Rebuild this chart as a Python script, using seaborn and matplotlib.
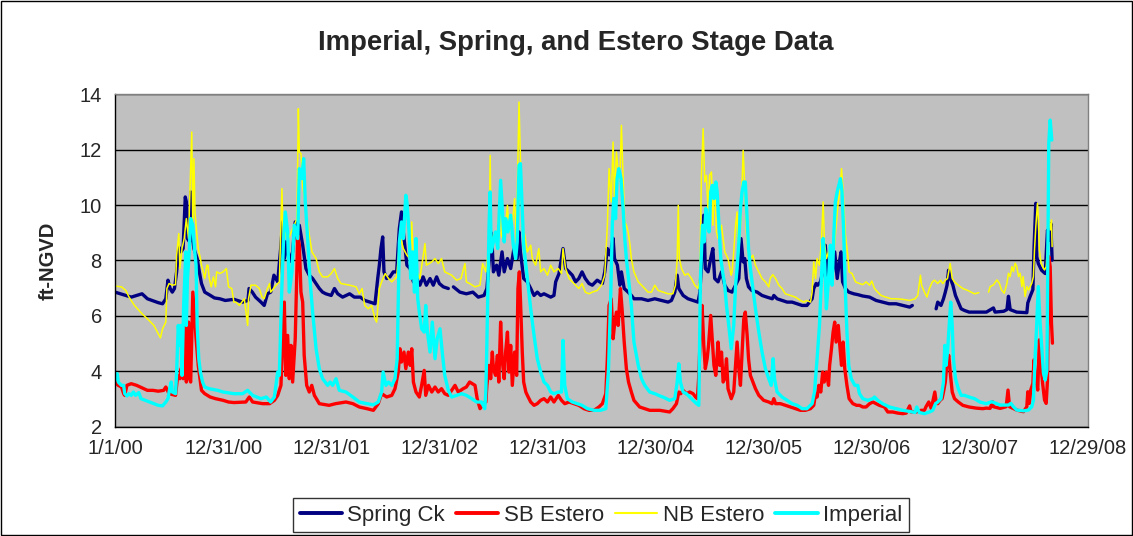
import pandas as pd
import numpy as np
import matplotlib
matplotlib.use('Agg')
import matplotlib.pyplot as plt
from matplotlib.lines import Line2D
from matplotlib.patches import Rectangle
import seaborn as sns

# (years since 1/1/00, stage ft-NGVD); None = no record (gap)
spring_ck = [
    (0.00, 6.86), (0.10, 6.74), (0.15, 6.68), (0.25, 6.80), (0.30, 6.62), (0.40, 6.48), (0.44, 6.44),
    (0.47, 6.62), (0.49, 7.29), (0.51, 6.99), (0.53, 6.86), (0.55, 6.99), (0.57, 7.59), (0.59, 8.49),
    (0.61, 8.31), (0.63, 8.43), (0.65, 10.29), (0.66, 10.11), (0.67, 8.79), (0.69, 8.67), (0.70, 10.47),
    (0.71, 9.03), (0.73, 8.43), (0.76, 8.07), (0.78, 7.59), (0.80, 7.17), (0.83, 6.86), (0.87, 6.77),
    (0.92, 6.65), (0.97, 6.62), (1.02, 6.56), (1.10, 6.60),
    (1.18, 6.50), (1.23, 6.56), (1.24, 6.99), (1.27, 6.86), (1.30, 6.68), (1.35, 6.50), (1.38, 6.38),
    (1.41, 6.80), (1.44, 6.86), (1.47, 7.47), (1.505, 7.23), (1.535, 8.55), (1.55, 9.39), (1.566, 8.07),
    (1.58, 8.67), (1.612, 7.95), (1.643, 8.31), (1.667, 9.39), (1.69, 8.79), (1.705, 9.27), (1.736, 8.55),
    (1.766, 7.71), (1.797, 7.47), (1.828, 7.35), (1.859, 7.17), (1.89, 6.99), (1.92, 6.86), (1.95, 6.80),
    (2.00, 6.74), (2.03, 6.99), (2.06, 6.80), (2.105, 6.68), (2.17, 6.80), (2.214, 6.68),
    (2.27, 6.68), (2.31, 6.56), (2.36, 6.50), (2.405, 6.44), (2.43, 7.35), (2.445, 7.83), (2.46, 8.43),
    (2.476, 8.85), (2.488, 7.59), (2.513, 7.35), (2.543, 7.41), (2.574, 7.59), (2.605, 7.59), (2.63, 9.15),
    (2.65, 9.75), (2.667, 9.03), (2.70, 7.83), (2.73, 7.71), (2.76, 7.23), (2.79, 7.35), (2.82, 7.11),
    (2.85, 7.41), (2.88, 7.11), (2.914, 7.35), (2.944, 7.11), (2.975, 7.41), (3.00, 7.17), (3.037, 7.05),
    (3.083, 6.99), (3.10, None),
    (3.13, 7.05), (3.19, 6.86), (3.25, 6.80), (3.31, 6.86), (3.36, 6.68),
    (3.413, 6.74), (3.44, 6.99), (3.46, 7.95), (3.475, 9.03), (3.49, 8.43), (3.50, 7.59), (3.53, 7.83),
    (3.55, 7.47), (3.58, 8.31), (3.60, 7.59), (3.63, 8.07), (3.66, 7.71), (3.69, 8.43), (3.72, 8.07),
    (3.737, 9.03), (3.75, 8.31), (3.78, 7.35), (3.814, 7.23), (3.845, 6.99), (3.876, 6.74), (3.906, 6.86),
    (3.937, 6.74), (3.968, 6.80), (4.00, 6.74), (4.03, 6.68), (4.06, 6.74), (4.076, 7.23), (4.107, 7.53),
    (4.144, 8.43), (4.168, 7.71), (4.20, 7.59), (4.23, 7.47), (4.26, 7.23), (4.29, 7.35), (4.32, 7.59),
    (4.35, 7.35), (4.384, 7.17), (4.415, 7.11), (4.46, 7.29), (4.508, 7.17), (4.53, 7.59), (4.554, 8.43),
    (4.576, 8.20), (4.59, 8.43), (4.607, 8.80), (4.62, 8.07), (4.647, 7.83), (4.67, 7.11), (4.684, 7.59),
    (4.71, 6.99), (4.746, 6.86), (4.776, 6.74), (4.80, 6.62), (4.87, 6.62), (4.93, 6.56), (4.993, 6.62),
    (5.054, 6.56), (5.116, 6.50), (5.147, 6.56), (5.178, 6.86), (5.20, 7.47), (5.215, 6.99), (5.255, 6.74),
    (5.30, 6.62), (5.347, 6.56), (5.393, 6.50), (5.41, 6.86), (5.424, 7.83), (5.446, 9.63), (5.46, 7.71),
    (5.486, 7.59), (5.51, 8.07), (5.53, 8.43), (5.547, 7.35), (5.578, 7.23), (5.61, 7.59), (5.64, 7.11),
    (5.67, 6.92),
    (5.708, 6.86), (5.74, 7.11), (5.77, 7.35), (5.79, 8.79), (5.81, 7.95), (5.825, 8.07), (5.84, 7.35),
    (5.86, 7.05), (5.89, 6.92), (5.94, 6.86), (5.985, 6.74), (6.03, 6.68), (6.08, 6.62), (6.094, 6.74),
    (6.124, 6.62), (6.17, 6.56), (6.217, 6.50), (6.263, 6.50), (6.31, 6.44), (6.355, 6.38), (6.40, 6.38),
    (6.448, 6.62), (6.463, 6.99), (6.485, 7.17), (6.50, 7.11), (6.525, 7.23), (6.546, 7.59), (6.57, 8.55),
    (6.587, 7.47), (6.61, 7.83), (6.633, 7.47), (6.657, 8.31), (6.68, 7.35), (6.70, 7.95), (6.716, 8.31),
    (6.73, 7.23), (6.756, 6.99), (6.787, 6.86), (6.833, 6.80),
    (6.87, 6.77), (6.917, 6.72), (6.98, 6.68), (7.04, 6.56), (7.10, 6.50), (7.16, 6.44), (7.225, 6.44),
    (7.287, 6.38), (7.35, 6.32), (7.375, 6.38), (7.45, None),
    (7.595, 6.26), (7.61, 6.50), (7.64, 6.38), (7.663, 6.62), (7.68, 6.86), (7.696, 7.11), (7.71, 7.65),
    (7.728, 7.35), (7.75, 7.11), (7.774, 6.74), (7.80, 6.50), (7.826, 6.26), (7.857, 6.20), (7.90, 6.14),
    (7.965, 6.14), (8.06, 6.14),
    (8.125, 6.29), (8.14, 6.14), (8.22, 6.17), (8.25, 6.23), (8.264, 6.71), (8.28, 6.23), (8.34, 6.14),
    (8.434, 6.12), (8.443, 6.47), (8.465, 6.71), (8.49, 6.95), (8.50, 8.38), (8.517, 10.06), (8.526, 8.13),
    (8.54, 7.89), (8.57, 7.65), (8.604, 7.53), (8.625, 9.09), (8.644, 8.73), (8.656, 9.33), (8.668, 8.01),
]

sb_estero = [
    (0.00, 3.62), (0.03, 3.50), (0.06, 3.44), (0.08, 3.20), (0.09, 3.14), (0.11, 3.50), (0.15, 3.56),
    (0.20, 3.50), (0.25, 3.41), (0.30, 3.32), (0.35, 3.32), (0.40, 3.29), (0.45, 3.32), (0.47, 3.44),
    (0.50, 3.20), (0.56, 3.14), (0.58, 3.86), (0.60, 3.74), (0.61, 4.10), (0.63, 3.74), (0.65, 5.66),
    (0.66, 3.62), (0.67, 4.22), (0.68, 5.78), (0.69, 3.74), (0.70, 3.62), (0.72, 6.86), (0.735, 6.02),
    (0.75, 5.18), (0.77, 4.22), (0.79, 3.62), (0.80, 3.32), (0.83, 3.20), (0.88, 3.08), (0.93, 3.02),
    (1.00, 2.96), (1.05, 2.90), (1.10, 2.88),
    (1.21, 2.90), (1.242, 3.08), (1.273, 2.90), (1.366, 2.84), (1.43, 2.84), (1.474, 2.96), (1.505, 3.14),
    (1.535, 3.50), (1.566, 6.50), (1.58, 3.86), (1.597, 5.30), (1.612, 3.74), (1.628, 4.94), (1.643, 3.62),
    (1.667, 5.18), (1.69, 8.91), (1.705, 8.55), (1.72, 6.86), (1.736, 6.50), (1.75, 4.58), (1.773, 3.50),
    (1.797, 3.26), (1.82, 3.50), (1.844, 3.14), (1.89, 2.84), (1.98, 2.78), (2.04, 2.84), (2.136, 2.90),
    (2.20, 2.84), (2.26, 2.72),
    (2.33, 2.66), (2.39, 2.60), (2.435, 2.84), (2.466, 3.20), (2.513, 3.08), (2.56, 3.14), (2.59, 3.38),
    (2.62, 3.98), (2.636, 4.82), (2.65, 4.34), (2.673, 4.70), (2.69, 4.10), (2.713, 4.70), (2.73, 4.22),
    (2.745, 4.82), (2.76, 3.62), (2.784, 3.26), (2.815, 3.08), (2.836, 3.50), (2.86, 4.04), (2.874, 3.14),
    (2.90, 3.50), (2.93, 3.26), (2.96, 3.44), (2.99, 3.26), (3.02, 3.38), (3.05, 3.20), (3.083, 3.14),
    (3.114, 3.32), (3.145, 3.50), (3.175, 3.26), (3.22, 3.38), (3.25, 3.44), (3.28, 3.62), (3.33, 3.50),
    (3.35, 3.02), (3.376, 2.66), (3.41, 2.84),
    (3.43, 2.90), (3.44, 3.50), (3.46, 4.22), (3.475, 3.74), (3.49, 4.70), (3.50, 4.10), (3.52, 3.86),
    (3.537, 4.58), (3.55, 3.62), (3.567, 5.78), (3.58, 4.46), (3.60, 3.74), (3.613, 4.70), (3.63, 5.42),
    (3.644, 3.98), (3.66, 4.94), (3.675, 3.50), (3.696, 4.70), (3.715, 3.86), (3.727, 6.99), (3.74, 7.59),
    (3.75, 6.62), (3.767, 4.70), (3.78, 3.62), (3.80, 3.26), (3.814, 3.14), (3.845, 2.90), (3.876, 2.78),
    (3.906, 2.84), (3.937, 2.96), (3.968, 3.02), (4.00, 2.90), (4.03, 3.08), (4.06, 2.90), (4.10, 3.14),
    (4.13, 2.96), (4.16, 2.84), (4.20, 2.90), (4.245, 2.84), (4.29, 2.78), (4.338, 2.66), (4.384, 2.60),
    (4.43, 2.60), (4.476, 2.72), (4.508, 2.84), (4.54, 3.20), (4.554, 4.46), (4.57, 6.38),
    (4.59, 6.62), (4.607, 5.18), (4.62, 5.66), (4.638, 6.14), (4.654, 5.66), (4.675, 6.99), (4.69, 6.26),
    (4.71, 5.06), (4.73, 4.10), (4.75, 3.62), (4.776, 3.26), (4.80, 2.96), (4.853, 2.72), (4.90, 2.66),
    (4.946, 2.60), (5.04, 2.60), (5.10, 2.56), (5.13, 2.54), (5.16, 2.66), (5.193, 2.84), (5.215, 3.26),
    (5.233, 3.20), (5.255, 3.32), (5.285, 3.20), (5.316, 3.26), (5.347, 3.20), (5.37, 3.08), (5.387, 3.02),
    (5.40, 3.86), (5.415, 5.42), (5.43, 6.38), (5.446, 4.94), (5.46, 4.10), (5.477, 4.46), (5.49, 4.94),
    (5.51, 6.02), (5.526, 5.06), (5.54, 4.22), (5.557, 3.86), (5.578, 5.06), (5.594, 4.22), (5.61, 4.70),
    (5.625, 3.62), (5.64, 3.74), (5.656, 4.46), (5.67, 3.38), (5.70, 3.02),
    (5.723, 3.26), (5.74, 4.22), (5.754, 5.06), (5.77, 4.10), (5.785, 3.50), (5.80, 4.70), (5.816, 5.90),
    (5.83, 6.14), (5.847, 5.30), (5.86, 4.46), (5.877, 3.86), (5.90, 3.62), (5.924, 3.38), (5.955, 3.14),
    (6.00, 2.96), (6.047, 2.90), (6.078, 2.84), (6.094, 3.02), (6.11, 2.84), (6.155, 2.84), (6.20, 2.78),
    (6.248, 2.72), (6.294, 2.66), (6.34, 2.60), (6.386, 2.60), (6.433, 2.66), (6.463, 2.78), (6.48, 3.20),
    (6.494, 3.08), (6.51, 3.50), (6.528, 3.26), (6.546, 3.98), (6.56, 3.62), (6.58, 3.98), (6.60, 3.50),
    (6.61, 4.22), (6.627, 4.82), (6.642, 5.42), (6.657, 5.78), (6.67, 5.06), (6.69, 5.66), (6.704, 4.94),
    (6.72, 4.22), (6.735, 5.06), (6.75, 4.10), (6.77, 3.50), (6.79, 3.02), (6.825, 2.84), (6.86, 2.78),
    (6.886, 2.78), (6.917, 2.72), (6.947, 2.72), (6.98, 2.84), (7.01, 2.90), (7.04, 2.84), (7.07, 2.78),
    (7.117, 2.72), (7.148, 2.54), (7.194, 2.54), (7.24, 2.50), (7.287, 2.48), (7.318, 2.50), (7.35, 2.76),
    (7.363, 2.54), (7.41, 2.54), (7.456, 2.60), (7.487, 2.60), (7.50, 2.72), (7.527, 2.90), (7.55, 2.66),
    (7.57, 3.02), (7.583, 3.26), (7.595, 2.90), (7.61, 2.84), (7.632, 2.96), (7.65, 3.02), (7.663, 3.26),
    (7.68, 3.62), (7.696, 4.34), (7.712, 4.58), (7.728, 3.86), (7.744, 3.26), (7.765, 3.02), (7.80, 2.90),
    (7.842, 2.78), (7.90, 2.72), (7.965, 2.68), (8.027, 2.66), (8.058, 2.68),
    (8.094, 2.67), (8.116, 2.91), (8.125, 2.73), (8.187, 2.67), (8.243, 2.73), (8.26, 3.33), (8.274, 2.73),
    (8.34, 2.61), (8.403, 2.55), (8.434, 2.73), (8.443, 3.27), (8.458, 2.85), (8.47, 3.33), (8.49, 3.57),
    (8.50, 4.42), (8.517, 3.69), (8.535, 3.33), (8.55, 5.14), (8.566, 4.18), (8.58, 3.57), (8.598, 2.97),
    (8.613, 2.85), (8.625, 3.69), (8.637, 8.14), (8.65, 7.78), (8.662, 5.74), (8.671, 5.02),
]

nb_estero = [
    (0.00, 7.08), (0.06, 7.05), (0.10, 6.92), (0.13, 6.68), (0.18, 6.38), (0.25, 6.08), (0.30, 5.90),
    (0.36, 5.66), (0.42, 5.21), (0.44, 5.54), (0.47, 5.78), (0.48, 6.99), (0.50, 7.17), (0.53, 7.11),
    (0.56, 7.13), (0.57, 8.19), (0.59, 8.97), (0.60, 7.71), (0.62, 8.43), (0.64, 8.79), (0.66, 9.51),
    (0.68, 8.79), (0.71, 12.63), (0.72, 9.03), (0.73, 11.67), (0.74, 9.75), (0.755, 9.03), (0.77, 8.43),
    (0.79, 8.07), (0.80, 7.83), (0.82, 7.53), (0.83, 7.35), (0.85, 7.83), (0.86, 7.83), (0.87, 7.41),
    (0.89, 7.05), (0.91, 7.41), (0.93, 7.05), (0.94, 7.59), (0.97, 7.53), (1.00, 7.59), (1.03, 7.71),
    (1.05, 7.05), (1.08, 6.99), (1.10, 6.50),
    (1.119, 6.50), (1.15, 6.38), (1.196, 6.62), (1.227, 5.66), (1.235, 6.62), (1.258, 7.11), (1.30, 7.11),
    (1.335, 6.99), (1.36, 6.68), (1.38, 6.62), (1.41, 6.99), (1.43, 7.17), (1.44, 6.86), (1.49, 7.11),
    (1.52, 7.23), (1.544, 10.59), (1.557, 8.55), (1.58, 9.03), (1.606, 8.79), (1.63, 9.03), (1.658, 9.27),
    (1.683, 9.51), (1.696, 13.47), (1.705, 11.91), (1.72, 11.85), (1.736, 10.71), (1.757, 10.11),
    (1.776, 9.51), (1.797, 8.91), (1.822, 8.31), (1.86, 8.07), (1.89, 7.59), (1.92, 7.41), (1.967, 7.41),
    (2.00, 7.53), (2.03, 7.71), (2.06, 7.35), (2.09, 7.17), (2.17, 7.11), (2.23, 7.05), (2.26, 6.80),
    (2.285, 6.99), (2.31, 6.38), (2.343, 6.26), (2.374, 6.38), (2.405, 5.90), (2.42, 5.78), (2.445, 6.99),
    (2.466, 7.23), (2.50, 7.53), (2.53, 7.35), (2.56, 7.23), (2.605, 7.41), (2.636, 8.91), (2.667, 8.43),
    (2.70, 8.19), (2.73, 8.07), (2.745, 9.39), (2.76, 7.83), (2.79, 7.65), (2.82, 7.35), (2.867, 8.61),
    (2.88, 7.83), (2.93, 7.95), (2.96, 8.07), (2.99, 7.89), (3.02, 8.07), (3.05, 7.59), (3.083, 7.53),
    (3.114, 7.47), (3.16, 7.29), (3.20, 7.35), (3.237, 7.89), (3.25, 7.23), (3.28, 7.17), (3.33, 7.05),
    (3.376, 7.11), (3.40, 7.89),
    (3.43, 7.59), (3.46, 8.55), (3.47, 11.79), (3.48, 8.43), (3.50, 8.91), (3.537, 9.03), (3.56, 10.23),
    (3.573, 8.91), (3.60, 8.67), (3.63, 9.99), (3.644, 9.03), (3.675, 9.27), (3.696, 10.23), (3.712, 8.67),
    (3.737, 13.71), (3.75, 11.67), (3.767, 9.27), (3.79, 8.91), (3.814, 8.31), (3.845, 8.55), (3.86, 8.07),
    (3.89, 7.83), (3.92, 8.43), (3.937, 7.59), (3.968, 7.71), (4.00, 7.47), (4.03, 7.83), (4.06, 7.59),
    (4.10, 7.71), (4.13, 7.53), (4.144, 8.43), (4.168, 7.71), (4.20, 7.35), (4.23, 7.23), (4.26, 7.11),
    (4.29, 6.99), (4.32, 7.17), (4.35, 6.86), (4.384, 6.80), (4.415, 6.86), (4.46, 6.92), (4.50, 7.11),
    (4.53, 7.47), (4.554, 9.27), (4.57, 11.31), (4.59, 10.11), (4.607, 12.27), (4.62, 10.23),
    (4.638, 11.91), (4.654, 11.19), (4.67, 10.95), (4.684, 12.87), (4.70, 10.95), (4.715, 9.39),
    (4.73, 9.27), (4.746, 9.03), (4.76, 8.67), (4.776, 8.07), (4.80, 7.59), (4.84, 7.23), (4.87, 7.11),
    (4.90, 6.99), (4.93, 6.86), (4.962, 6.86), (4.993, 7.11), (5.024, 6.92), (5.07, 6.86), (5.116, 6.80),
    (5.16, 6.80), (5.184, 7.11), (5.20, 8.07), (5.21, 9.99), (5.22, 8.07), (5.24, 7.71), (5.27, 7.47),
    (5.30, 7.53), (5.332, 7.35), (5.363, 7.11), (5.393, 6.99), (5.41, 7.35), (5.424, 11.07), (5.44, 12.75),
    (5.455, 10.83), (5.47, 11.07), (5.486, 9.75), (5.50, 11.07), (5.517, 11.19), (5.53, 9.27),
    (5.547, 10.83), (5.563, 9.03), (5.578, 8.79), (5.61, 9.27), (5.625, 8.79), (5.64, 8.31), (5.67, 8.07),
    (5.70, 7.47),
    (5.708, 7.59), (5.723, 8.31), (5.74, 9.27), (5.754, 9.75), (5.764, 8.07), (5.776, 8.67), (5.79, 9.51),
    (5.81, 11.97), (5.825, 10.71), (5.84, 9.03), (5.856, 8.31), (5.877, 8.07), (5.90, 8.19), (5.924, 7.83),
    (5.955, 7.59), (5.985, 7.35), (6.016, 7.23), (6.047, 7.05), (6.06, 7.35), (6.084, 7.49), (6.11, 7.35),
    (6.14, 7.11), (6.17, 6.99), (6.20, 6.80), (6.248, 6.74), (6.294, 6.68), (6.34, 6.56), (6.37, 6.50),
    (6.40, 6.56), (6.433, 6.50), (6.448, 6.86), (6.463, 7.95), (6.48, 7.35), (6.494, 8.07), (6.516, 7.83),
    (6.534, 8.67), (6.55, 10.11), (6.562, 8.67), (6.58, 8.07), (6.60, 8.31), (6.61, 7.71), (6.633, 8.19),
    (6.65, 8.31), (6.67, 9.27), (6.69, 10.11), (6.704, 10.47), (6.72, 11.31), (6.735, 10.47), (6.756, 8.91),
    (6.778, 8.19), (6.79, 7.59), (6.818, 7.53), (6.85, 7.23),
    (6.886, 7.17), (6.917, 7.13), (6.947, 7.23), (6.98, 7.11), (7.00, 7.26), (7.025, 6.99), (7.055, 6.86),
    (7.086, 6.74), (7.13, 6.68), (7.18, 6.62), (7.225, 6.62), (7.287, 6.60), (7.35, 6.56), (7.40, 6.62),
    (7.425, 6.74), (7.45, 7.47), (7.46, 7.11), (7.487, 6.86), (7.51, 6.68), (7.533, 6.99), (7.56, 7.23),
    (7.58, 7.29), (7.61, 7.17), (7.635, 7.29), (7.657, 7.17), (7.68, 7.29), (7.70, 7.35), (7.725, 7.89),
    (7.744, 7.35), (7.765, 7.23), (7.80, 7.11), (7.842, 6.99), (7.888, 6.92), (7.92, 6.86), (7.95, 6.80),
    (7.99, 6.84), (8.03, None),
    (8.08, 6.86), (8.095, 7.06), (8.125, 7.12), (8.157, 7.30), (8.18, 7.18), (8.20, 6.94), (8.225, 6.82),
    (8.25, 7.18), (8.264, 7.54), (8.28, 7.42), (8.296, 7.78), (8.31, 7.60), (8.326, 7.90), (8.34, 7.80),
    (8.357, 7.42), (8.372, 7.54), (8.388, 7.06), (8.40, 7.42), (8.418, 6.70), (8.434, 7.06), (8.45, 6.94),
    (8.465, 7.06), (8.48, 7.18), (8.495, 7.42), (8.505, 8.38), (8.517, 9.22), (8.532, 10.06), (8.54, 9.58),
    (8.55, 8.38), (8.566, 7.90), (8.58, 7.78), (8.598, 7.66), (8.613, 7.78), (8.625, 8.50), (8.637, 9.58),
    (8.65, 9.10), (8.662, 9.46), (8.668, 8.50),
]

imperial = [
    (0.00, 3.92), (0.01, 3.74), (0.02, 3.92), (0.03, 3.62), (0.06, 3.50), (0.08, 3.50), (0.09, 3.20),
    (0.11, 3.12), (0.13, 3.20), (0.15, 3.14), (0.17, 3.26), (0.19, 3.14), (0.22, 3.24), (0.24, 3.02),
    (0.28, 2.96), (0.32, 2.90), (0.36, 2.84), (0.40, 2.78), (0.44, 2.76), (0.47, 2.90), (0.49, 3.02),
    (0.50, 3.26), (0.52, 3.62), (0.53, 3.26), (0.56, 3.20), (0.57, 3.98), (0.585, 5.66), (0.60, 4.94),
    (0.61, 5.66), (0.62, 3.86), (0.635, 6.38), (0.645, 7.35), (0.655, 8.31), (0.66, 5.66), (0.67, 7.35),
    (0.685, 8.19), (0.70, 9.51), (0.71, 9.39), (0.72, 9.27), (0.735, 8.43), (0.75, 7.83), (0.76, 5.66),
    (0.775, 4.46), (0.79, 3.98), (0.81, 3.62), (0.83, 3.44), (0.87, 3.38), (0.95, 3.32), (1.00, 3.26),
    (1.10, 3.20),
    (1.18, 3.20), (1.227, 3.32), (1.273, 3.14), (1.35, 3.02), (1.40, 3.08), (1.44, 2.90), (1.474, 3.08),
    (1.505, 3.98), (1.52, 3.86), (1.54, 6.62), (1.557, 8.55), (1.575, 9.75), (1.597, 9.03), (1.612, 6.86),
    (1.637, 7.59), (1.658, 9.27), (1.674, 9.03), (1.69, 8.79), (1.705, 11.31), (1.726, 10.95),
    (1.745, 11.67), (1.76, 10.11), (1.782, 8.79), (1.803, 7.35), (1.828, 6.14), (1.86, 4.82), (1.89, 4.10),
    (1.92, 3.74), (1.967, 3.50), (1.99, 3.62), (2.013, 3.50), (2.044, 3.74), (2.075, 3.32), (2.136, 3.26),
    (2.20, 3.08), (2.26, 2.90),
    (2.33, 2.84), (2.39, 2.80), (2.435, 2.90), (2.466, 3.26), (2.48, 3.98), (2.506, 3.50), (2.53, 3.62),
    (2.56, 3.50), (2.59, 3.74), (2.61, 4.46), (2.63, 8.67), (2.65, 9.39), (2.667, 8.79), (2.69, 10.35),
    (2.70, 10.11), (2.72, 9.03), (2.735, 7.35), (2.753, 8.31), (2.77, 6.86), (2.784, 8.79), (2.80, 6.62),
    (2.815, 6.14), (2.836, 5.54), (2.86, 5.42), (2.874, 6.38), (2.89, 5.42), (2.914, 4.70), (2.935, 5.78),
    (2.96, 4.46), (2.98, 5.18), (3.006, 5.54), (3.03, 4.58), (3.05, 3.86), (3.083, 3.32), (3.114, 3.08),
    (3.16, 3.14), (3.207, 3.20), (3.25, 3.14), (3.30, 3.02), (3.345, 2.90), (3.39, 2.90),
    (3.42, 2.66), (3.43, 3.26), (3.44, 5.06), (3.46, 9.27), (3.47, 10.47), (3.48, 8.31), (3.50, 8.67),
    (3.52, 9.03), (3.54, 8.43), (3.567, 10.89), (3.58, 9.99), (3.60, 8.67), (3.613, 9.51), (3.635, 9.03),
    (3.66, 9.63), (3.684, 8.55), (3.706, 8.07), (3.72, 8.67), (3.737, 11.43), (3.75, 11.49), (3.767, 9.87),
    (3.78, 8.55), (3.814, 7.35), (3.845, 6.26), (3.876, 5.30), (3.906, 4.46), (3.937, 3.98), (3.968, 3.62),
    (4.00, 3.50), (4.03, 3.26), (4.06, 3.20), (4.10, 3.26), (4.13, 3.26), (4.144, 5.12), (4.16, 3.50),
    (4.184, 3.02), (4.23, 2.90), (4.276, 2.84), (4.32, 2.78), (4.37, 2.66), (4.43, 2.60), (4.49, 2.60),
    (4.54, 2.66),
    (4.565, 4.10), (4.586, 6.86), (4.60, 9.27), (4.613, 10.23), (4.63, 9.51), (4.644, 10.95), (4.66, 11.31),
    (4.68, 10.95), (4.70, 9.87), (4.715, 8.79), (4.73, 8.07), (4.75, 7.35), (4.776, 6.38), (4.80, 5.06),
    (4.84, 4.22), (4.87, 3.74), (4.90, 3.50), (4.946, 3.26), (4.993, 3.20), (5.04, 3.12), (5.085, 3.05),
    (5.13, 2.96), (5.178, 3.02), (5.20, 3.62), (5.215, 4.28), (5.23, 3.62), (5.255, 3.26), (5.285, 3.20),
    (5.316, 3.08), (5.347, 2.96), (5.38, 2.84), (5.40, 2.78), (5.415, 7.35), (5.434, 9.27), (5.45, 8.67),
    (5.465, 9.87), (5.48, 9.27), (5.495, 9.03), (5.51, 10.47), (5.526, 10.71), (5.54, 10.23),
    (5.557, 10.83), (5.57, 10.47), (5.587, 9.27), (5.603, 8.07), (5.625, 7.47), (5.64, 7.11),
    (5.656, 6.38), (5.677, 5.66), (5.70, 4.82),
    (5.723, 5.66), (5.74, 7.11), (5.754, 7.71), (5.77, 8.67), (5.785, 9.87), (5.80, 10.47), (5.816, 10.83),
    (5.83, 10.83), (5.847, 9.51), (5.86, 8.43), (5.877, 7.71), (5.90, 6.99), (5.924, 6.26), (5.955, 5.42),
    (5.985, 4.70), (6.016, 4.10), (6.047, 3.74), (6.07, 3.50), (6.087, 4.46), (6.10, 3.74), (6.124, 3.26),
    (6.17, 3.08), (6.217, 2.96), (6.263, 2.84), (6.31, 2.78), (6.355, 2.66), (6.40, 2.66), (6.448, 2.84),
    (6.47, 3.26), (6.494, 4.46), (6.516, 5.66), (6.534, 7.35), (6.55, 8.79), (6.565, 7.83), (6.58, 6.26),
    (6.60, 7.35), (6.617, 8.55), (6.633, 7.11), (6.65, 9.03), (6.663, 10.11), (6.68, 10.47),
    (6.695, 10.71), (6.71, 10.95), (6.725, 10.47), (6.74, 9.03), (6.756, 6.86), (6.77, 5.42),
    (6.787, 4.22), (6.81, 3.74), (6.843, 3.50),
    (6.87, 3.50), (6.886, 3.20), (6.917, 3.02), (6.963, 2.96), (7.01, 3.02), (7.025, 3.08), (7.055, 2.96),
    (7.10, 2.84), (7.163, 2.72), (7.225, 2.66), (7.287, 2.60), (7.35, 2.56), (7.40, 2.52), (7.416, 2.72),
    (7.44, 2.52), (7.487, 2.48), (7.533, 2.54), (7.564, 2.60), (7.59, 2.84), (7.61, 2.90), (7.64, 3.02),
    (7.663, 3.62), (7.675, 4.94), (7.687, 4.22), (7.70, 4.70), (7.72, 5.90), (7.73, 6.50), (7.744, 5.66),
    (7.755, 4.46), (7.774, 3.74), (7.80, 3.38), (7.826, 3.14), (7.857, 3.14), (7.90, 3.08), (7.95, 3.02),
    (8.00, 2.90), (8.058, 2.84),
    (8.11, 2.91), (8.187, 2.79), (8.264, 2.79), (8.286, 2.85), (8.31, 2.73), (8.34, 2.61), (8.403, 2.58),
    (8.45, 2.61), (8.48, 2.73), (8.495, 2.97), (8.51, 4.46), (8.526, 5.74), (8.54, 7.06), (8.557, 5.74),
    (8.573, 4.78), (8.588, 3.93), (8.604, 3.69), (8.62, 4.06), (8.628, 8.14), (8.637, 12.22),
    (8.65, 13.06), (8.665, 12.34),
]

series_names = ['Spring Ck', 'SB Estero', 'NB Estero', 'Imperial']
series_colors = ['#000080', '#FF0000', '#FFFF00', '#00FFFF']
series_widths = [2.4, 2.4, 1.1, 2.4]

start = pd.Timestamp('2000-01-01')
tick_dates = [start + pd.Timedelta(days=365 * k) for k in range(10)]
tick_labels = [f'{d.month}/{d.day}/{d:%y}' for d in tick_dates]


def to_frame(pairs):
    df = pd.DataFrame(pairs, columns=['yr', 'stage'])
    df['stage'] = df['stage'].astype(float)
    df['date'] = start + pd.to_timedelta(df['yr'] * 365, unit='D')
    df['seg'] = df['stage'].isna().cumsum()  # break the line where there is no record
    return df.dropna()


sns.set_style('white')
plt.rcParams['font.family'] = ['Liberation Sans', 'DejaVu Sans']

fig, ax = plt.subplots(figsize=(11.33, 5.36), dpi=100)
fig.subplots_adjust(left=0.1015, right=0.9603, top=0.8246, bottom=0.2034)
ax.set_facecolor('#C0C0C0')

for pairs, col, lw in zip([spring_ck, sb_estero, nb_estero, imperial], series_colors, series_widths):
    d = to_frame(pairs)
    sns.lineplot(data=d, x='date', y='stage', units='seg', estimator=None,
                 color=col, linewidth=lw, ax=ax, legend=False)

ax.set_xlim(tick_dates[0], tick_dates[-1])
ax.set_xticks(tick_dates)
ax.set_xticklabels(tick_labels)
ax.set_ylim(2, 14)
ax.set_yticks(range(2, 15, 2))
ax.yaxis.grid(True, color='black', linewidth=1)
ax.xaxis.grid(False)
ax.set_axisbelow(True)
ax.tick_params(axis='both', direction='out', length=4.5, width=1, color='black', labelsize=14.5)
ax.tick_params(axis='y', pad=5)
ax.tick_params(axis='x', pad=4)

for side in ['left', 'bottom']:
    ax.spines[side].set_color('black')
    ax.spines[side].set_linewidth(1)
for side in ['top', 'right']:
    ax.spines[side].set_color('#808080')
    ax.spines[side].set_linewidth(1)

ax.set_xlabel('')
ax.set_ylabel('ft-NGVD', fontsize=14.5, fontweight='bold')
ax.yaxis.set_label_coords(-0.059, 0.5)

fig.suptitle('Imperial, Spring, and Estero Stage Data', fontsize=19.8, fontweight='bold', x=0.508, y=0.944)

handles = [Line2D([0], [0], color=c, linewidth=w + 0.4) for c, w in zip(series_colors, series_widths)]
leg = fig.legend(handles, series_names, loc='center', bbox_to_anchor=(0.5305, 0.039), ncol=4,
                 fontsize=16, frameon=True, fancybox=False, edgecolor='black',
                 handlelength=1.9, handletextpad=0.25, columnspacing=0.5, borderpad=0.3)
leg.get_frame().set_linewidth(1)

fig.patches.append(Rectangle((0.001, 0.001), 0.998, 0.997, transform=fig.transFigure,
                             fill=False, edgecolor='black', linewidth=1))

fig.savefig('out.png', dpi=100)
